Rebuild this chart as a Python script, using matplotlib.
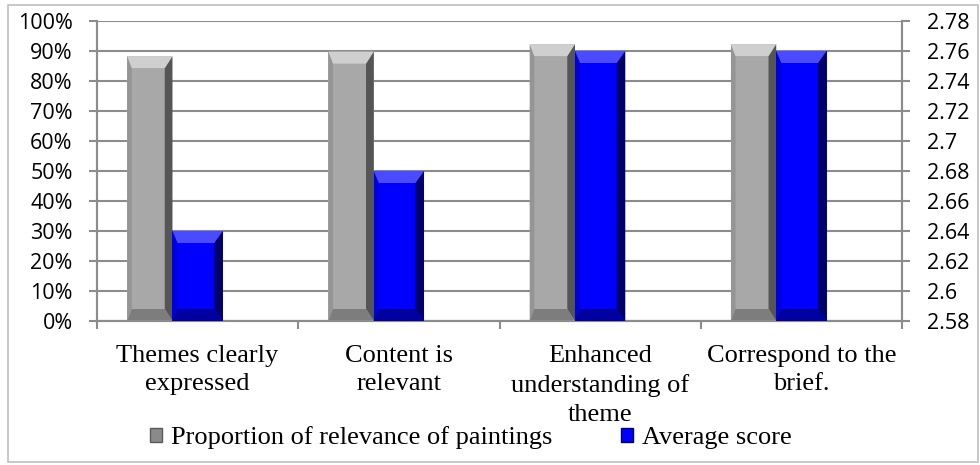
import matplotlib.pyplot as plt
import numpy as np
from matplotlib.patches import Patch, Rectangle, Polygon

categories = ['Themes clearly\nexpressed', 'Content is\nrelevant',
              'Enhanced\nunderstanding of\ntheme', 'Correspond to the\nbrief.']
relevance = [0.883, 0.898, 0.923, 0.923]
avg_score = [2.64, 2.68, 2.76, 2.76]
left_ticks = [0, 0.1, 0.2, 0.3, 0.4, 0.5, 0.6, 0.7, 0.8, 0.9, 1.0]
left_labels = ['0%', '10%', '20%', '30%', '40%', '50%', '60%', '70%', '80%', '90%', '100%']
right_ticks = [2.58, 2.60, 2.62, 2.64, 2.66, 2.68, 2.70, 2.72, 2.74, 2.76, 2.78]
right_labels = ['2.58', '2.6', '2.62', '2.64', '2.66', '2.68', '2.7', '2.72', '2.74', '2.76', '2.78']

serif = 'Liberation Serif'
sans = 'Open Sans'
grid_c = '#8c8c8c'

fig = plt.figure(figsize=(9.8, 4.65), dpi=100)
fig.patches.append(Rectangle((8 / 980, 3 / 465), 970 / 980, 457 / 465, transform=fig.transFigure,
                             fill=False, edgecolor='#bfbfbf', linewidth=1.2))
ax = fig.add_axes([97 / 980, 1 - 321 / 465, 805 / 980, 300 / 465])
ax2 = ax.twinx()

x = np.arange(len(categories))
gray_bars = ax.bar(x - 0.2375, relevance, width=0.225, color='#a8a8a8', zorder=3)
blue_bars = ax2.bar(x, np.array(avg_score) - 2.58, bottom=2.58, width=0.25, color='#0000ff', zorder=3)

ax.set_xlim(-0.5, len(categories) - 0.5)
ax.set_ylim(0, 1)
ax2.set_ylim(2.58, 2.78)


def bevel(axis, bars, light, dark, top, bottom):
    y0, y1 = axis.get_ylim()
    d = (y1 - y0) * 12 / 300
    for b in bars:
        bx, by, w, h = b.get_x(), b.get_y(), b.get_width(), b.get_height()
        e = w * 0.17
        axis.add_patch(Polygon([(bx + w - e, by + d), (bx + w, by), (bx + w, by + h), (bx + w - e, by + h - d)],
                               color=dark, zorder=4, linewidth=0))
        axis.add_patch(Polygon([(bx, by), (bx + e * 0.6, by + d), (bx + e * 0.6, by + h - d), (bx, by + h)],
                               color=light, zorder=4, linewidth=0))
        axis.add_patch(Polygon([(bx, by + h), (bx + w, by + h), (bx + w - e, by + h - d), (bx + e * 0.6, by + h - d)],
                               color=top, zorder=4, linewidth=0))
        axis.add_patch(Polygon([(bx, by), (bx + w, by), (bx + w - e, by + d), (bx + e * 0.6, by + d)],
                               color=bottom, zorder=4, linewidth=0))


bevel(ax, gray_bars, '#959595', '#555555', '#cfcfcf', '#7d7d7d')
bevel(ax2, blue_bars, '#0000d8', '#00006a', '#4a4aff', '#0000a0')

ax.set_yticks(left_ticks)
ax.set_yticklabels(left_labels, fontfamily=sans, fontsize=15.5)
ax2.set_yticks(right_ticks)
ax2.set_yticklabels(right_labels, fontfamily=sans, fontsize=15.5)
ax.yaxis.grid(True, color=grid_c, linewidth=1.5, zorder=0)
ax.set_axisbelow(True)

ax.set_xticks(x)
ax.set_xticklabels(categories, fontfamily=serif, fontsize=19, linespacing=1.4)
ax.set_xticks(np.arange(len(categories) + 1) - 0.5, minor=True)
ax.tick_params(axis='x', which='major', length=0, pad=17)
ax.tick_params(axis='x', which='minor', length=6, width=1.5, color=grid_c, direction='out')
ax.tick_params(axis='y', length=6, width=1.5, color=grid_c, pad=11.5)
ax2.tick_params(axis='y', length=6, width=1.5, color=grid_c, pad=12)

for a in (ax, ax2):
    for s in a.spines.values():
        s.set_color(grid_c)
        s.set_linewidth(1.5)
    a.spines['top'].set_visible(False)

handles = [Patch(facecolor='#8a8a8a', edgecolor='#5a5a5a', label='Proportion of relevance of paintings'),
           Patch(facecolor='#0000ff', edgecolor='#00006a', label='Average score')]
fig.legend(handles=handles, loc='center', bbox_to_anchor=(471 / 980, 1 - 438 / 465), ncol=2,
           frameon=False, prop={'family': serif, 'size': 19}, handlelength=0.45, handleheight=0.45,
           handletextpad=0.35, columnspacing=2.6)

fig.savefig('out.png', dpi=100)
